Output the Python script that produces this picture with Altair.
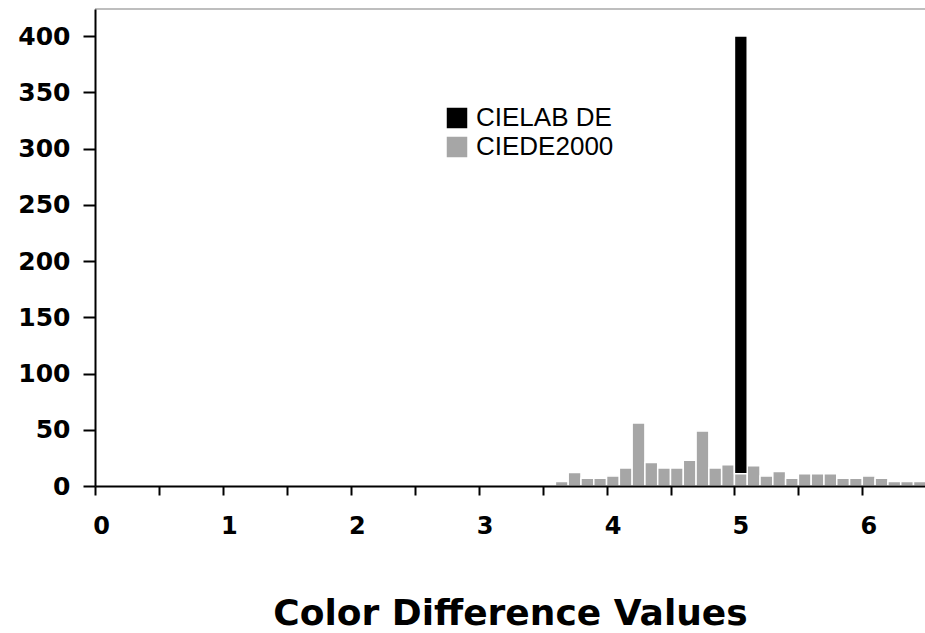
import altair as alt
import pandas as pd

# CIEDE2000 histogram: lower edge of each 0.1-wide bin and its count
bin_start = [3.6, 3.7, 3.8, 3.9, 4.0, 4.1, 4.2, 4.3, 4.4, 4.5,
             4.6, 4.7, 4.8, 4.9, 5.0, 5.1, 5.2, 5.3, 5.4, 5.5,
             5.6, 5.7, 5.8, 5.9, 6.0, 6.1, 6.2, 6.3, 6.4]
ciede_counts = [4, 12, 7, 7, 9, 16, 56, 21, 16, 16,
                23, 49, 16, 19, 18, 18, 9, 13, 7, 11,
                11, 11, 7, 7, 9, 7, 4, 4, 4]
bin_width = 0.1

# CIELAB DE: a single bin holding nearly all samples
cielab_start = [5.0]
cielab_low = [11]
cielab_high = [400]

series_names = ["CIELAB DE", "CIEDE2000"]
series_colors = ["#000000", "#a6a6a6"]

y_ticks = [0, 50, 100, 150, 200, 250, 300, 350, 400]
x_ticks = [0, 0.5, 1, 1.5, 2, 2.5, 3, 3.5, 4, 4.5, 5, 5.5, 6]

gray_df = pd.DataFrame({
    "start": bin_start,
    "end": [round(s + bin_width, 2) for s in bin_start],
    "count": ciede_counts,
    "series": series_names[1],
})
black_df = pd.DataFrame({
    "start": cielab_start,
    "end": [round(s + bin_width, 2) for s in cielab_start],
    "low": cielab_low,
    "high": cielab_high,
    "series": series_names[0],
})

x_scale = alt.Scale(domain=[0, 6.49], nice=False, zero=False)
y_scale = alt.Scale(domain=[0, 424], nice=False)
color_scale = alt.Scale(domain=series_names, range=series_colors)

# whole-number labels only, set slightly to the right of their ticks
x_axis = alt.Axis(
    values=x_ticks,
    labelExpr="datum.value % 1 == 0 ? format(datum.value, 'd') : ''",
    grid=False,
    tickSize=9,
    labelPadding=19,
    labelOffset=6,
    labelFont="DejaVu Sans",
    labelFontWeight="bold",
    labelFontSize=24,
    labelColor="#000000",
    labelFlush=False,
    title="Color Difference Values",
    titleFont="DejaVu Sans",
    titleFontWeight="bold",
    titleFontSize=36,
    titleColor="#000000",
    titleBaseline="alphabetic",
    titleX=415,
    titleY=138,
    zindex=1,
)
y_axis = alt.Axis(
    values=y_ticks,
    grid=False,
    tickSize=12,
    labelPadding=13,
    labelFont="DejaVu Sans",
    labelFontWeight="bold",
    labelFontSize=25,
    labelColor="#000000",
    title=None,
    zindex=1,
)

legend = alt.Legend(
    title=None,
    orient="none",
    legendX=349,
    legendY=96,
    symbolType="square",
    symbolSize=420,
    symbolStrokeWidth=0,
    labelFont="Liberation Sans",
    labelFontSize=26,
    labelColor="#000000",
    labelOffset=6,
    rowPadding=3,
    padding=0,
)

# thin gray frame line along the top of the plot area
frame_top = alt.Chart(pd.DataFrame({"edge": ["top"]})).mark_rule(
    color="#a8a8a8", strokeWidth=1.5
).encode(y=alt.value(0))

gray = alt.Chart(gray_df).mark_bar(stroke="white", strokeWidth=1.5, clip=True).encode(
    x=alt.X("start:Q", scale=x_scale, axis=x_axis),
    x2="end:Q",
    y=alt.Y("count:Q", scale=y_scale, axis=y_axis),
    y2=alt.datum(0),
    color=alt.Color("series:N", scale=color_scale, legend=legend, sort=series_names),
)

black = alt.Chart(black_df).mark_bar(stroke="white", strokeWidth=1.5).encode(
    x="start:Q",
    x2="end:Q",
    y="high:Q",
    y2="low:Q",
    color=alt.Color("series:N", scale=color_scale, legend=legend, sort=series_names),
)

chart = alt.layer(frame_top, gray, black).properties(
    width=830,
    height=477,
    background="white",
    autosize=alt.AutoSizeParams(type="none"),
    padding={"left": 95, "top": 9, "right": 0, "bottom": 146},
).configure_view(
    strokeWidth=0,
).configure_axis(
    domainColor="#000000",
    domainWidth=2,
    tickColor="#000000",
    tickWidth=2,
)

chart.save("out.html", embed_options={"renderer": "svg", "actions": False})
